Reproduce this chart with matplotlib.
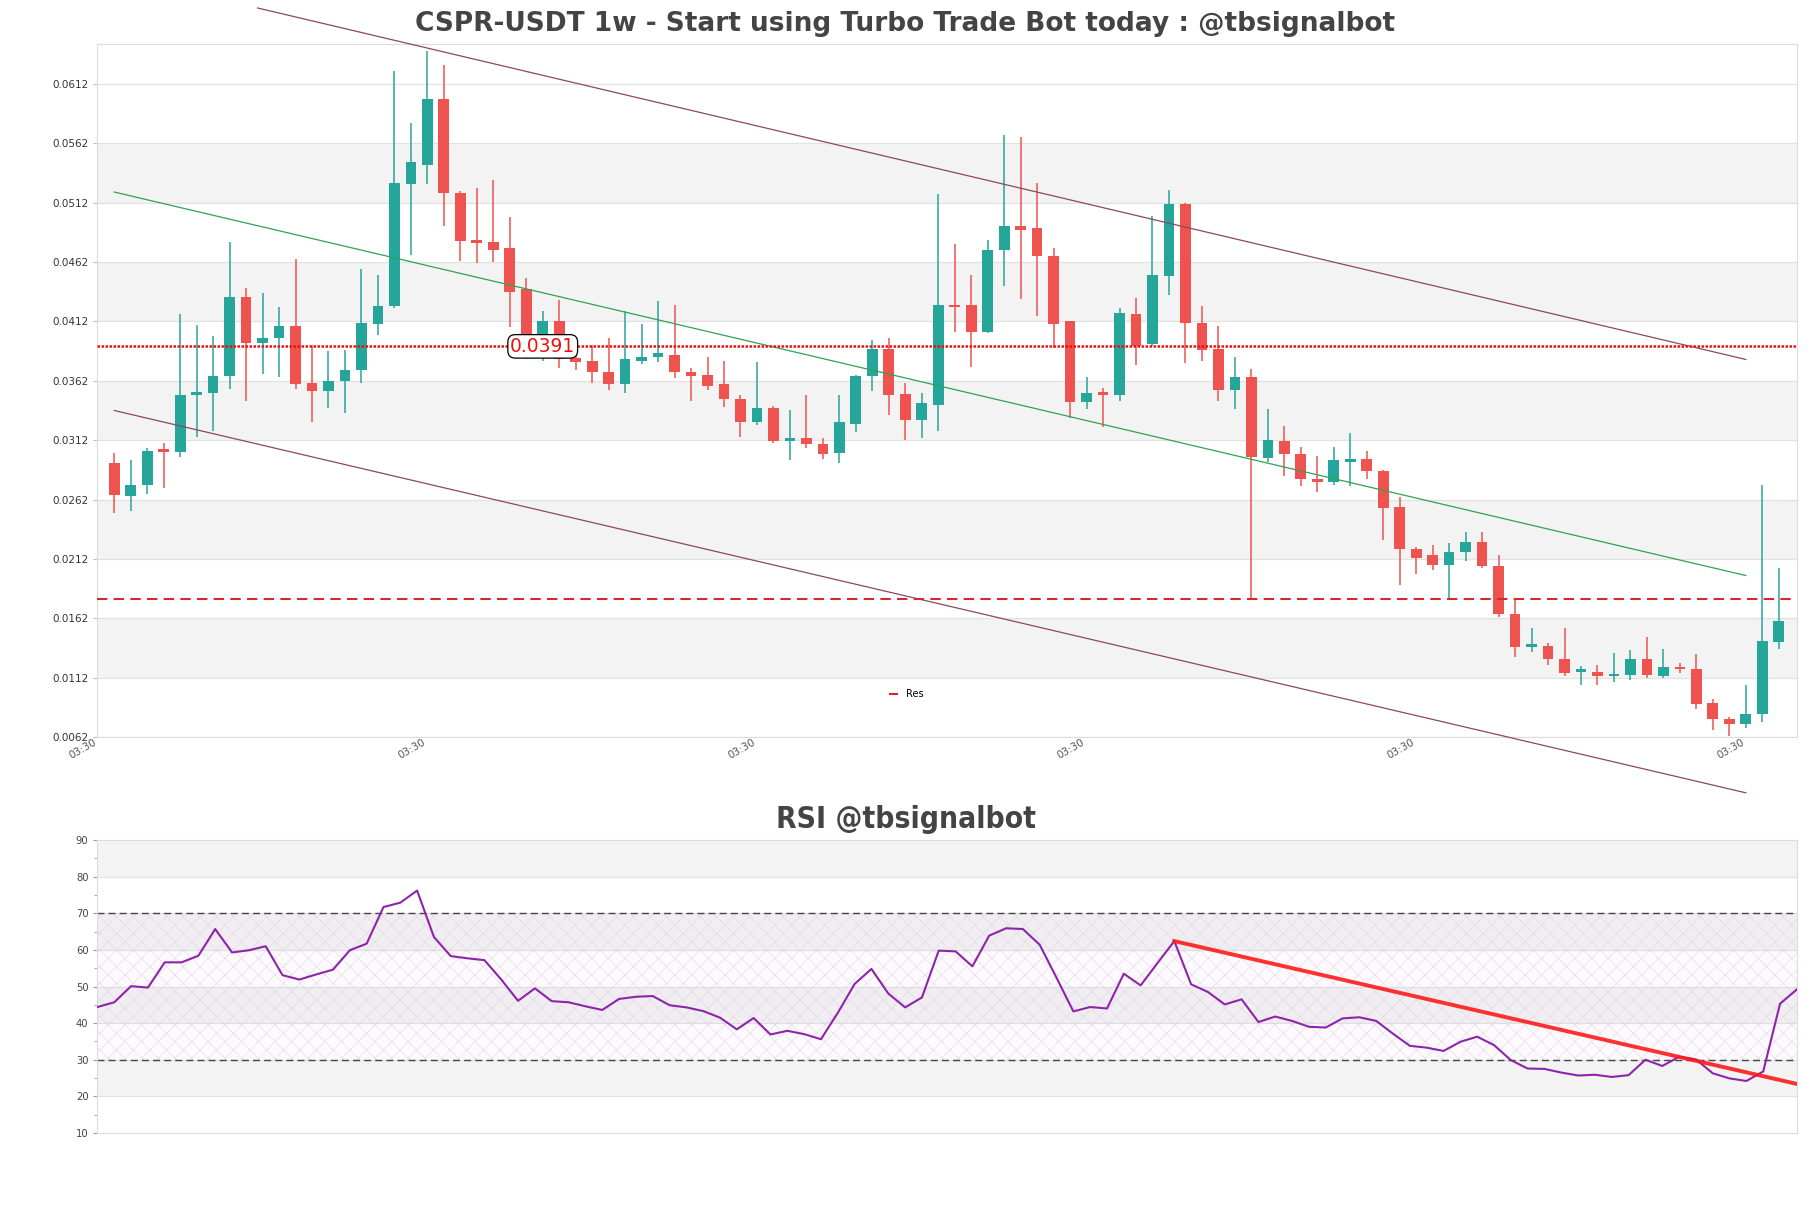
import matplotlib
matplotlib.use("Agg")
import matplotlib.pyplot as plt
import numpy as np

plt.rcParams['font.family'] = 'DejaVu Sans'
plt.rcParams['hatch.linewidth'] = 0.4

# weekly candles
opens = [0.0293, 0.0265, 0.0274, 0.0303, 0.0302, 0.0350, 0.0352, 0.0366, 0.0433, 0.0394,
         0.0398, 0.0408, 0.0360, 0.0353, 0.0362, 0.0371, 0.0410, 0.0425, 0.0528, 0.0544,
         0.0599, 0.0520, 0.0480, 0.0479, 0.0474, 0.0439, 0.0395, 0.0412, 0.0381, 0.0379,
         0.0369, 0.0359, 0.0379, 0.0382, 0.0384, 0.0369, 0.0367, 0.0359, 0.0347, 0.0327,
         0.0339, 0.0311, 0.0314, 0.0309, 0.0301, 0.0326, 0.0366, 0.0389, 0.0351, 0.0329,
         0.0342, 0.0425, 0.0426, 0.0403, 0.0472, 0.0492, 0.0491, 0.0467, 0.0412, 0.0344,
         0.0351, 0.0350, 0.0418, 0.0393, 0.0450, 0.0511, 0.0411, 0.0389, 0.0354, 0.0365,
         0.0297, 0.0311, 0.0300, 0.0279, 0.0277, 0.0294, 0.0296, 0.0286, 0.0256, 0.0220,
         0.0215, 0.0207, 0.0218, 0.0226, 0.0206, 0.0166, 0.0138, 0.0139, 0.0128, 0.0117,
         0.0117, 0.0113, 0.0114, 0.0128, 0.0113, 0.0121, 0.0119, 0.0091, 0.0077, 0.0073,
         0.0081, 0.0142]
highs = [0.0301, 0.0295, 0.0305, 0.0310, 0.0418, 0.0409, 0.0400, 0.0479, 0.0440, 0.0436,
         0.0424, 0.0465, 0.0392, 0.0387, 0.0388, 0.0456, 0.0451, 0.0623, 0.0579, 0.0640,
         0.0628, 0.0522, 0.0524, 0.0531, 0.0500, 0.0449, 0.0421, 0.0430, 0.0396, 0.0392,
         0.0398, 0.0421, 0.0410, 0.0429, 0.0426, 0.0373, 0.0382, 0.0379, 0.0350, 0.0378,
         0.0341, 0.0337, 0.0350, 0.0314, 0.0350, 0.0367, 0.0396, 0.0398, 0.0360, 0.0352,
         0.0519, 0.0477, 0.0451, 0.0481, 0.0569, 0.0567, 0.0529, 0.0474, 0.0412, 0.0365,
         0.0356, 0.0423, 0.0432, 0.0501, 0.0523, 0.0512, 0.0425, 0.0408, 0.0382, 0.0372,
         0.0338, 0.0324, 0.0306, 0.0299, 0.0306, 0.0318, 0.0303, 0.0287, 0.0264, 0.0222,
         0.0224, 0.0225, 0.0235, 0.0235, 0.0215, 0.0178, 0.0154, 0.0141, 0.0154, 0.0122,
         0.0123, 0.0133, 0.0135, 0.0146, 0.0136, 0.0124, 0.0132, 0.0094, 0.0079, 0.0106,
         0.0274, 0.0204]
lows = [0.0251, 0.0252, 0.0267, 0.0272, 0.0298, 0.0315, 0.0320, 0.0355, 0.0345, 0.0368,
        0.0365, 0.0355, 0.0327, 0.0339, 0.0335, 0.0360, 0.0401, 0.0423, 0.0468, 0.0528,
        0.0492, 0.0463, 0.0461, 0.0462, 0.0407, 0.0380, 0.0379, 0.0373, 0.0371, 0.0360,
        0.0354, 0.0352, 0.0376, 0.0378, 0.0364, 0.0345, 0.0354, 0.0340, 0.0315, 0.0325,
        0.0310, 0.0295, 0.0305, 0.0296, 0.0293, 0.0319, 0.0353, 0.0333, 0.0312, 0.0314,
        0.0320, 0.0403, 0.0374, 0.0402, 0.0442, 0.0431, 0.0417, 0.0390, 0.0331, 0.0338,
        0.0323, 0.0345, 0.0375, 0.0391, 0.0434, 0.0377, 0.0379, 0.0345, 0.0338, 0.0178,
        0.0294, 0.0282, 0.0273, 0.0268, 0.0274, 0.0273, 0.0279, 0.0228, 0.0190, 0.0199,
        0.0203, 0.0179, 0.0210, 0.0204, 0.0163, 0.0129, 0.0134, 0.0123, 0.0113, 0.0106,
        0.0106, 0.0108, 0.0110, 0.0112, 0.0112, 0.0116, 0.0086, 0.0068, 0.0063, 0.0070,
        0.0075, 0.0136]
closes = [0.0266, 0.0274, 0.0303, 0.0302, 0.0350, 0.0352, 0.0366, 0.0433, 0.0394, 0.0398,
          0.0408, 0.0359, 0.0353, 0.0362, 0.0371, 0.0411, 0.0425, 0.0529, 0.0546, 0.0599,
          0.0520, 0.0480, 0.0478, 0.0472, 0.0437, 0.0395, 0.0412, 0.0380, 0.0378, 0.0369,
          0.0359, 0.0380, 0.0382, 0.0385, 0.0369, 0.0366, 0.0358, 0.0347, 0.0327, 0.0339,
          0.0311, 0.0314, 0.0309, 0.0300, 0.0327, 0.0366, 0.0389, 0.0350, 0.0329, 0.0343,
          0.0426, 0.0424, 0.0403, 0.0472, 0.0492, 0.0489, 0.0467, 0.0410, 0.0344, 0.0352,
          0.0350, 0.0419, 0.0391, 0.0451, 0.0511, 0.0411, 0.0388, 0.0354, 0.0365, 0.0298,
          0.0312, 0.0300, 0.0279, 0.0277, 0.0295, 0.0296, 0.0286, 0.0255, 0.0220, 0.0213,
          0.0207, 0.0218, 0.0226, 0.0206, 0.0166, 0.0138, 0.0139, 0.0128, 0.0116, 0.0118,
          0.0113, 0.0115, 0.0128, 0.0114, 0.0121, 0.0119, 0.0090, 0.0077, 0.0073, 0.0081,
          0.0143, 0.0160]

rsi = [44.4, 45.7, 50.1, 49.7, 56.6, 56.6, 58.4, 65.7, 59.3, 59.9,
       61.0, 53.1, 51.9, 53.3, 54.6, 59.9, 61.7, 71.7, 72.9, 76.2,
       63.5, 58.3, 57.7, 57.2, 51.9, 46.1, 49.5, 46.0, 45.7, 44.6,
       43.6, 46.6, 47.2, 47.4, 44.9, 44.3, 43.3, 41.5, 38.3, 41.4,
       36.9, 37.9, 37.0, 35.6, 42.8, 50.7, 54.8, 48.1, 44.3, 47.0,
       59.8, 59.6, 55.5, 63.9, 65.9, 65.7, 61.4, 52.4, 43.2, 44.4,
       44.0, 53.5, 50.3, 56.4, 62.4, 50.6, 48.5, 45.1, 46.5, 40.3,
       41.8, 40.6, 39.0, 38.8, 41.3, 41.6, 40.6, 37.1, 33.8, 33.3,
       32.4, 34.9, 36.3, 34.0, 29.9, 27.6, 27.5, 26.5, 25.7, 25.9,
       25.3, 25.8, 30.0, 28.3, 30.8, 30.1, 26.3, 24.9, 24.2, 26.8,
       45.3, 49.2]

# trend / channel lines (x = candle index)
upper_x, upper_y = [8.7, 99], [0.0676, 0.0380]
mid_x, mid_y = [0, 99], [0.0521, 0.0198]
lower_x, lower_y = [0, 99], [0.0337, 0.0015]
rsi_trend_x, rsi_trend_y = [64, 101], [62.4, 23.4]

price_level = 0.0391
res_level = 0.0178
yticks = [0.0062, 0.0112, 0.0162, 0.0212, 0.0262, 0.0312, 0.0362, 0.0412, 0.0462, 0.0512, 0.0562, 0.0612]
xtick_pos = [-1, 19, 39, 59, 79, 99]
xtick_labels = ['03:30'] * 6

up_col = '#26a69a'
down_col = '#ef5350'
band_col = '#f3f3f3'
grid_col = '#e2e2e2'

fig = plt.figure(figsize=(18.11, 12.08), dpi=100)
ax = fig.add_axes([0.0538, 0.3899, 0.9384, 0.574])
ax2 = fig.add_axes([0.0538, 0.0621, 0.9384, 0.2425])

# ---- price panel ----
o = np.array(opens); h = np.array(highs); l = np.array(lows); c = np.array(closes)
x = np.arange(len(o))
cols = [up_col if cc >= oo else down_col for oo, cc in zip(o, c)]

for i in range(len(yticks) - 1):
    if i % 2 == 1:
        ax.axhspan(yticks[i], yticks[i + 1], color=band_col, zorder=0, lw=0)
for t in yticks:
    ax.axhline(t, color=grid_col, lw=0.9, zorder=0.5)

ax.vlines(x, l, h, colors=cols, lw=1.1, zorder=2)
body_h = np.maximum(np.abs(c - o), 0.00022)
ax.bar(x, body_h, bottom=np.minimum(o, c), width=0.65, color=cols, zorder=3, lw=0)

ax.plot(upper_x, upper_y, color='#8a4a5a', lw=0.9, clip_on=False, zorder=4)
ax.plot(lower_x, lower_y, color='#8a4a5a', lw=0.9, clip_on=False, zorder=4)
ax.plot(mid_x, mid_y, color='#2ea353', lw=0.9, zorder=4)

ax.axhline(price_level, color='#ee1111', lw=1.8, ls=(0, (1, 0.6)), zorder=4)
ax.axhline(res_level, color='#d42a2a', lw=1.5, ls=(0, (5, 3)), zorder=4, label='Res')
ax.text(26, price_level, '0.0391', color='#ee1111', fontsize=13.5, ha='center', va='center',
        zorder=6, bbox=dict(boxstyle='round,pad=0.12,rounding_size=0.4', fc='white', ec='black', lw=0.9))

ax.set_xlim(-1.02, 102.1)
ax.set_ylim(0.0062, 0.0646)
ax.set_yticks(yticks)
ax.set_yticklabels(['%.4f' % t for t in yticks])
ax.set_xticks(xtick_pos)
ax.set_xticklabels(xtick_labels, rotation=30, ha='right')
ax.tick_params(axis='y', labelsize=7.5, colors='#333333', length=3, color='#bbbbbb')
ax.tick_params(axis='x', labelsize=7.5, colors='#555555', length=0, pad=0)
for s in ax.spines.values():
    s.set_color('#dcdcdc')

leg = ax.legend(loc='lower center', bbox_to_anchor=(0.476, 0.042), frameon=False,
                fontsize=7, handlelength=0.9, handletextpad=0.8)

# ---- RSI panel ----
rx = np.arange(len(rsi))
for lo, hi in [(20, 30), (40, 50), (60, 70), (80, 90)]:
    ax2.axhspan(lo, hi, color=band_col, zorder=0, lw=0)
for t in range(20, 90, 10):
    ax2.axhline(t, color=grid_col, lw=0.9, zorder=0.5)
ax2.fill_between([0, len(rsi) - 1], 30, 70, facecolor='#b58ac8', alpha=0.04, zorder=1)
ax2.fill_between([0, len(rsi) - 1], 30, 70, facecolor='none', edgecolor='#e0d6e6',
                 hatch='xx', lw=0, zorder=1)
ax2.axhline(70, color='#444444', lw=1, ls=(0, (5, 3)), zorder=2)
ax2.axhline(30, color='#444444', lw=1, ls=(0, (5, 3)), zorder=2)
ax2.plot(rx, rsi, color='#8e24aa', lw=1.5, zorder=3)
ax2.plot(rsi_trend_x, rsi_trend_y, color='#ff1a1a', lw=2.8, alpha=0.9, zorder=4)

ax2.set_xlim(0, len(rsi) - 1)
ax2.set_ylim(10, 90)
ax2.set_yticks(range(10, 91, 10))
ax2.set_yticks(range(15, 90, 10), minor=True)
ax2.set_xticks([])
ax2.tick_params(axis='y', which='both', labelsize=8, colors='#444444', length=3, color='#999999')
ax2.tick_params(axis='y', which='minor', length=2)
for lab in ax2.get_yticklabels():
    lab.set_fontstretch('condensed')
for s in ax2.spines.values():
    s.set_color('#dcdcdc')

fig.text(0.5, 1 - 24 / 1208, 'CSPR-USDT 1w - Start using Turbo Trade Bot today : @tbsignalbot',
         ha='center', va='center', fontsize=19, fontweight='bold', color='#444444')
fig.text(0.5, 1 - 819 / 1208, 'RSI @tbsignalbot', ha='center', va='center', fontsize=21.5,
         fontweight='bold', fontstretch='condensed', color='#444444')

fig.savefig('out.png', dpi=100)
